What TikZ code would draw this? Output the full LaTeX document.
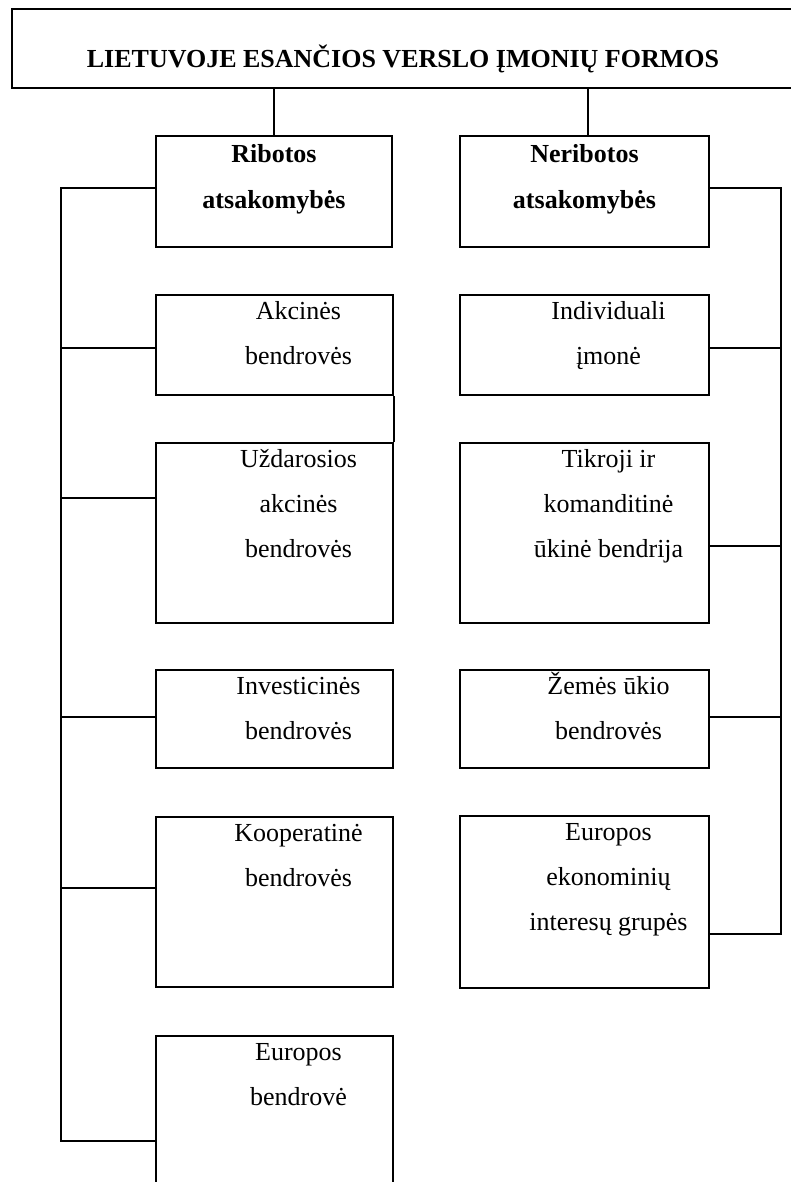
\documentclass[tikz,border=0pt]{standalone}
\usepackage{fontspec}
\setmainfont{Liberation Serif}
\usetikzlibrary{positioning,calc,fit}
\newcommand{\capstrut}{\rule{0pt}{17.5pt}}

\tikzset{
  box/.style={draw, rectangle, line width=1.5pt, inner sep=0pt},
  lbl/.style={font=\fontsize{19.5}{34}\selectfont, align=center, inner sep=0pt, anchor=north},
  hdr/.style={lbl, font=\bfseries\fontsize{19.5}{35}\selectfont},
  link/.style={line width=1.5pt}
}

\begin{document}
\begin{tikzpicture}[x=0.75pt, y=-0.75pt]
  \useasboundingbox (0,0) rectangle (791,1182);
  \clip (0,0) rectangle (791,1182);
  % title
  \node[box, fit={(12,9) (830,88)}] (title) {};
  \node[font=\bfseries\fontsize{19.5}{34}\selectfont, inner sep=0pt, anchor=base] (titleT) at (403,67) {LIETUVOJE ESANČIOS VERSLO ĮMONIŲ FORMOS};
  % two groups
  \node[box, fit={(156,136) (392,247)}] (rib) {};
  \node[box, fit={(460,136) (709,247)}] (ner) {};
  \node[hdr] (ribT) at ([yshift=-2.75pt]rib.north) {\capstrut Ribotos\\atsakomybės};
  \node[hdr] (nerT) at ([yshift=-2.75pt]ner.north) {\capstrut Neribotos\\atsakomybės};
  \draw[link] (rib.north) -- (rib.north |- title.south);
  \draw[link] ([xshift=2.6pt]ner.north) -- ([xshift=2.6pt]ner.north |- title.south);
  % left column
  \node[box, fit={(156,295) (393,395)}] (akc) {};
  \node[box, fit={(156,443) (393,623)}] (uzd) {};
  \node[box, fit={(156,670) (393,768)}] (inv) {};
  \node[box, fit={(156,817) (393,987)}] (koo) {};
  \node[box, fit={(156,1036) (393,1210)}] (eub) {};
  \node[lbl] (akcT) at ([xshift=18pt, yshift=-1.25pt]akc.north) {\capstrut Akcinės\\bendrovės};
  \node[lbl] (uzdT) at ([xshift=18pt, yshift=-1.25pt]uzd.north) {\capstrut Uždarosios\\akcinės\\bendrovės};
  \node[lbl] (invT) at ([xshift=18pt, yshift=-1.25pt]inv.north) {\capstrut Investicinės\\bendrovės};
  \node[lbl] (kooT) at ([xshift=18pt, yshift=-1.25pt]koo.north) {\capstrut Kooperatinė\\bendrovės};
  \node[lbl] (eubT) at ([xshift=18pt, yshift=-1.25pt]eub.north) {\capstrut Europos\\bendrovė};
  % right column
  \node[box, fit={(460,295) (709,395)}] (ind) {};
  \node[box, fit={(460,443) (709,623)}] (tik) {};
  \node[box, fit={(460,670) (709,768)}] (zem) {};
  \node[box, fit={(460,816) (709,988)}] (eeig) {};
  \node[lbl] (indT) at ([xshift=18pt, yshift=-1.25pt]ind.north) {\capstrut Individuali\\įmonė};
  \node[lbl] (tikT) at ([xshift=18pt, yshift=-1.25pt]tik.north) {\capstrut Tikroji ir\\komanditinė\\ūkinė bendrija};
  \node[lbl] (zemT) at ([xshift=18pt, yshift=-1.25pt]zem.north) {\capstrut Žemės ūkio\\bendrovės};
  \node[lbl] (eeigT) at ([xshift=18pt, yshift=-1.25pt]eeig.north) {\capstrut Europos\\ekonominių\\interesų grupės};
  % spines
  \coordinate (lsp) at (61,188);
  \coordinate (rsp) at (781,188);
  \coordinate (eub-l) at (61,1141);
  \coordinate (eeig-r) at (781,934);
  \draw[link] (rib.west |- lsp) -- (lsp) -- (eub-l) -- (eub-l -| eub.west);
  \draw[link] (ner.east |- rsp) -- (rsp) -- (eeig-r) -- (eeig-r -| eeig.east);
  \foreach \n/\y in {akc/348, uzd/498, inv/717, koo/888} {
    \coordinate (\n-l) at (61,\y);
    \draw[link] (\n-l) -- (\n-l -| \n.west);
  }
  \foreach \n/\y in {ind/348, tik/546, zem/717} {
    \coordinate (\n-r) at (781,\y);
    \draw[link] (\n-r) -- (\n-r -| \n.east);
  }
  \draw[link] (akc.south east) -- (uzd.north east);
\end{tikzpicture}
\end{document}
